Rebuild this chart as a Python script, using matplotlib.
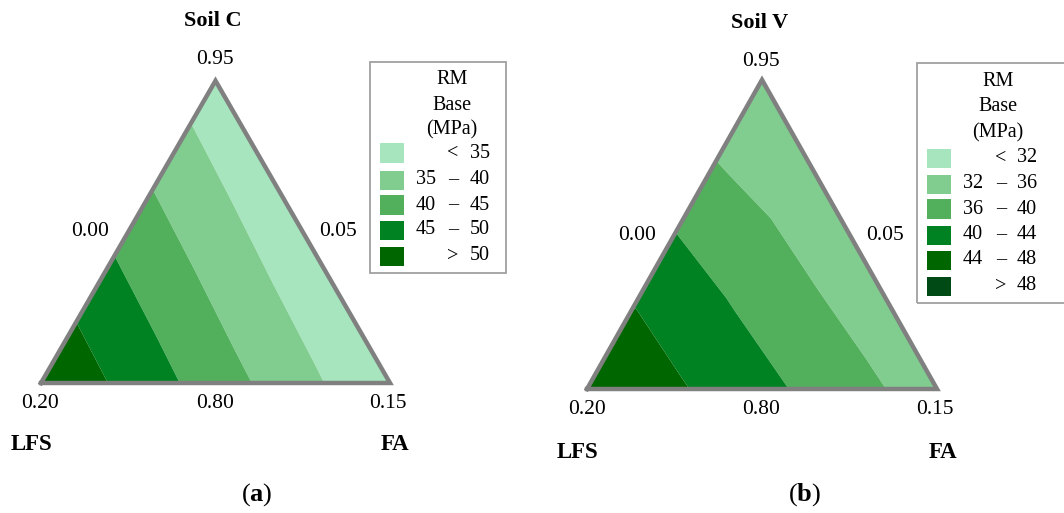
import numpy as np
import matplotlib
matplotlib.use("Agg")
import matplotlib.pyplot as plt
import matplotlib.tri as mtri
from matplotlib.patches import Rectangle

plt.rcParams['font.family'] = ['Liberation Serif', 'DejaVu Serif']
plt.rcParams['mathtext.fontset'] = 'custom'
plt.rcParams['mathtext.rm'] = 'Liberation Serif'
plt.rcParams['mathtext.bf'] = 'Liberation Serif:bold'

#%% data : ternary grid (4 steps per side), FA steps / Soil steps, RM Base (MPa)
grid_fa = [0, 1, 2, 3, 4, 0, 1, 2, 3, 0, 1, 2, 0, 1, 0]
grid_soil = [0, 0, 0, 0, 0, 1, 1, 1, 1, 2, 2, 2, 3, 3, 4]
rm_soil_c = [54.6, 48.6, 42.5, 36.5, 30.4, 48.9, 42.9, 36.8, 30.8, 43.2, 37.2, 31.1, 37.5, 31.5, 31.8]
rm_soil_v = [48.2, 44.6, 41.1, 37.5, 33.9, 44.3, 40.7, 37.1, 33.6, 40.1, 36.8, 33.2, 35.8, 32.9, 32.5]

levels_c = [0, 35, 40, 45, 50, 100]
levels_v = [0, 32, 36, 40, 44, 48, 100]
labels_c = [("", "<", "35"), ("35", "–", "40"), ("40", "–", "45"), ("45", "–", "50"), ("", ">", "50")]
labels_v = [("", "<", "32"), ("32", "–", "36"), ("36", "–", "40"), ("40", "–", "44"), ("44", "–", "48"), ("", ">", "48")]
colors_c = ["#a7e5be", "#81cd90", "#52b05c", "#008222", "#006600"]
colors_v = ["#a7e5be", "#81cd90", "#52b05c", "#008222", "#006600", "#004a16"]

vertex_labels = ["0.20", "0.80", "0.15", "0.05", "0.95", "0.00"]

W, H = 1064, 513
fig = plt.figure(figsize=(W / 100, H / 100), dpi=100)


def fx(px):
    return px / W


def fy(py):
    return 1 - py / H


def ternary(left, right, x0, y0, sx, sy, values, levels, colors):
    # axes spans pixel columns left..right, triangle bottom-left vertex at (x0,y0) px
    ax = fig.add_axes([fx(left), 0, fx(right) - fx(left), 1])
    ax.set_xlim((left - x0) / sx, (right - x0) / sx)
    ax.set_ylim((y0 - H) / sy, y0 / sy)
    ax.axis("off")
    n = 4
    i = np.array(grid_fa, dtype=float)
    j = np.array(grid_soil, dtype=float)
    x = (i + j / 2) / n
    y = j * np.sqrt(3) / 2 / n
    tri = mtri.Triangulation(x, y)
    ax.tricontourf(tri, values, levels=levels, colors=colors, antialiased=True)
    ax.plot([0, 1, 0.5, 0], [0, 0, np.sqrt(3) / 2, 0], color="#808080", lw=3.2,
            solid_joinstyle="miter", clip_on=False)
    return ax


def legend_box(left, right, top, bottom, cx, title_y, patch_x, row_y, col1, col2, col3, labels, colors):
    fig.add_artist(Rectangle((fx(left), fy(bottom)), fx(right) - fx(left), fy(top) - fy(bottom),
                             transform=fig.transFigure, fill=False, ec="#a0a0a0", lw=1.3))
    for t, ty in zip(["RM", "Base", "(MPa)"], title_y):
        fig.text(fx(cx), fy(ty), t, ha="center", va="center", fontsize=14.5)
    for (a, b, c), col, ry in zip(labels, colors, row_y):
        fig.add_artist(Rectangle((fx(patch_x), fy(ry + 9.5)), fx(24), 19 / H,
                                 transform=fig.transFigure, fc=col, ec="none"))
        fig.text(fx(col1), fy(ry), a, ha="right", va="center", fontsize=14.5)
        fig.text(fx(col2), fy(ry), b, ha="center", va="center", fontsize=14.5)
        fig.text(fx(col3), fy(ry), c, ha="right", va="center", fontsize=14.5)


def annotate(title, tag, pos):
    fig.text(fx(pos["title"][0]), fy(pos["title"][1]), title, ha="center", va="center",
             fontsize=16, fontweight="bold")
    for lab, p in zip(vertex_labels, pos["ticks"]):
        fig.text(fx(p[0]), fy(p[1]), lab, ha="center", va="center", fontsize=15.5)
    fig.text(fx(pos["lfs"][0]), fy(pos["lfs"][1]), "LFS", ha="center", va="center",
             fontsize=16.5, fontweight="bold")
    fig.text(fx(pos["fa"][0]), fy(pos["fa"][1]), "FA", ha="center", va="center",
             fontsize=16.5, fontweight="bold")
    fig.text(fx(pos["tag"][0]), fy(pos["tag"][1]), r"($\mathbf{%s}$)" % tag, ha="center",
             va="center", fontsize=19)


#%% panel (a) Soil C
ternary(0, 532, 41, 383, 349, 349, rm_soil_c, levels_c, colors_c)
annotate("Soil C", "a", {"title": (213, 21),
                         "ticks": [(40, 404), (215, 404), (388, 404), (338, 232), (215, 60), (90, 232)],
                         "lfs": (32, 445), "fa": (395, 445), "tag": (257, 495)})
legend_box(370, 506, 62, 273, 452, [80, 106, 130], 380, [153, 180, 205, 230, 256],
           436, 453, 490, labels_c, colors_c)

#%% panel (b) Soil V
ternary(532, 1064, 587, 389, 350, 357, rm_soil_v, levels_v, colors_v)
annotate("Soil V", "b", {"title": (760, 23),
                         "ticks": [(587, 409), (761, 409), (935, 409), (885, 236), (761, 62), (637, 236)],
                         "lfs": (578, 452), "fa": (943, 452), "tag": (805, 495)})
legend_box(917, 1075, 63, 303, 998, [82, 107, 133], 927, [158, 184, 209, 235, 260, 286],
           983, 1001, 1037, labels_v, colors_v)

fig.savefig("out.png", dpi=100)
